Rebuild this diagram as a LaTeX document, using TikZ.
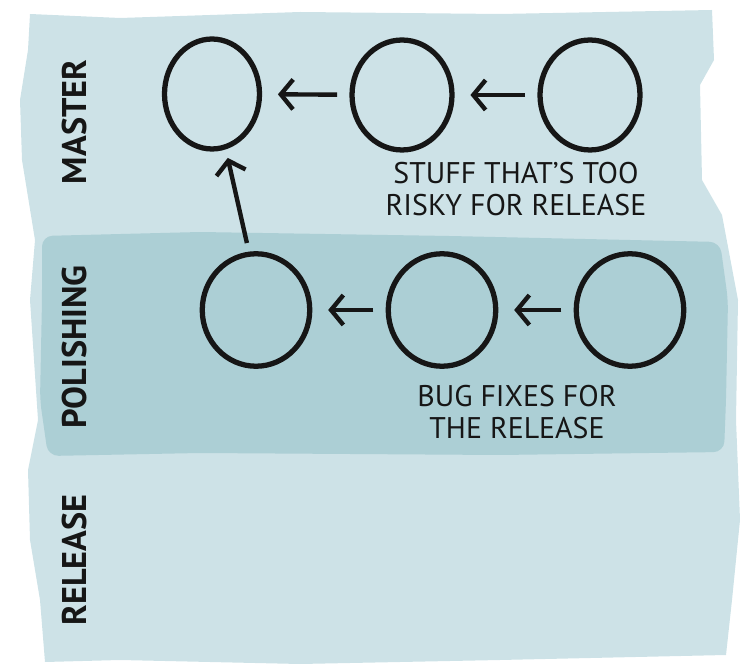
\documentclass[tikz,border=0pt]{standalone}
\usepackage{fontspec}
\setmainfont{PT Sans}
\usetikzlibrary{shapes.geometric,arrows.meta}
\definecolor{paper}{RGB}{205,226,231}
\definecolor{band}{RGB}{172,207,213}
\definecolor{ink}{RGB}{22,22,22}

\begin{document}
\begin{tikzpicture}[x=0.02cm, y=-0.02cm,
    commit/.style={ellipse, draw=ink, line width=3pt, minimum width=2.0cm, minimum height=2.2cm, inner sep=0pt},
    link/.style={draw=ink, line width=2.5pt, -{Straight Barb[length=7pt,width=17pt,line width=2.5pt]}, shorten >=9pt, shorten <=7pt},
    lane/.style={rotate=90, text=ink, font=\bfseries\fontsize{19.5}{22}\selectfont},
    note/.style={align=center, text=ink, font=\fontsize{17}{18.2}\selectfont}]
    \useasboundingbox (0,0) rectangle (740,668);

    % Paper wash
    \fill[paper] (30,14) -- (120,18) -- (300,12) -- (500,14) -- (712,10) -- (714,60) -- (700,85)
        -- (702,180) -- (722,215) -- (738,300) -- (736,420) -- (740,520) -- (732,600) -- (726,655)
        -- (500,660) -- (300,664) -- (120,660) -- (45,662) -- (40,600) -- (30,540) -- (28,470)
        -- (38,420) -- (30,300) -- (35,240) -- (22,160) -- (20,100) -- (28,50) -- cycle;

    % Polishing band
    \fill[band, rounded corners=6pt] (42,236) -- (200,232) -- (450,236) -- (720,242) -- (728,300)
        -- (726,400) -- (724,452) -- (500,455) -- (200,453) -- (48,456) -- (40,400) -- (42,300) -- cycle;

    % Lane names
    \node[lane] (master) at (75,122) {MASTER};
    \node[lane] (polishing) at (75,347) {POLISHING};
    \node[lane] (release) at (75,560) {RELEASE};

    % Master commits
    \node[commit, minimum width=1.9cm] (m1) at (212,94) {};
    \node[commit] (m2) at (402,95) {};
    \node[commit] (m3) at (590,95) {};
    \node[note] (risky) at (516,189) {STUFF THAT'S TOO\\RISKY FOR RELEASE};

    % Polishing commits
    \node[commit, minimum width=2.15cm, minimum height=2.25cm] (p1) at (256,310) {};
    \node[commit, minimum width=2.15cm, minimum height=2.25cm] (p2) at (442,310) {};
    \node[commit, minimum width=2.15cm, minimum height=2.25cm] (p3) at (630,310) {};
    \node[note] (fixes) at (517,412) {BUG FIXES FOR\\THE RELEASE};

    % History
    \draw[link] (m2) -- (m1);
    \draw[link] (m3) -- (m2);
    \draw[link] (p2) -- (p1);
    \draw[link] (p3) -- (p2);
    \draw[link, shorten >=5pt, shorten <=5pt] (p1.97) -- (m1.-76);
\end{tikzpicture}
\end{document}
